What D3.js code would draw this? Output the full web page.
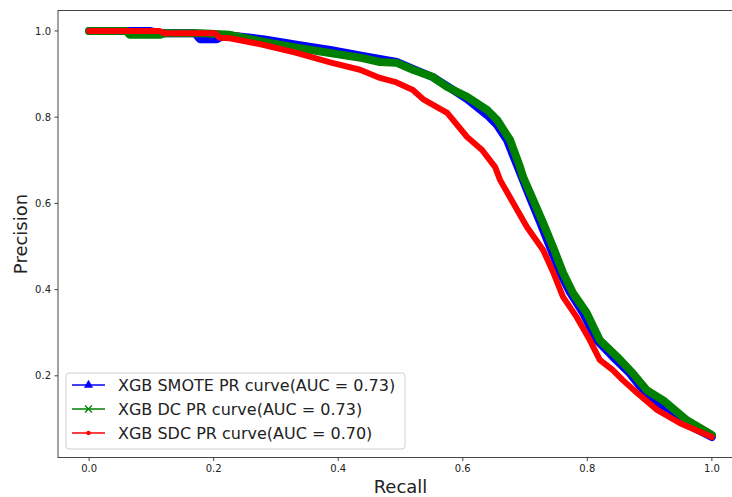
<!DOCTYPE html>
<html>
<head>
<meta charset="utf-8">
<script src="https://cdn.jsdelivr.net/npm/d3@7"></script>
<style>
  body { margin: 0; background: #fff; }
  text { font-family: "DejaVu Sans", sans-serif; }
</style>
</head>
<body>
<script>
// PR curve points (recall, precision)
const smoteRecall = [0.0, 0.097, 0.113, 0.170, 0.178, 0.205, 0.218, 0.279, 0.333, 0.387, 0.439, 0.494, 0.520, 0.552, 0.575, 0.607, 0.639, 0.655, 0.671, 0.687, 0.708, 0.724, 0.740, 0.756, 0.772, 0.793, 0.815, 0.841, 0.868, 0.892, 0.916, 0.956, 1.0];
const smotePrecision = [1.0, 1.0, 0.995, 0.995, 0.981, 0.981, 0.991, 0.981, 0.968, 0.956, 0.942, 0.928, 0.912, 0.893, 0.872, 0.842, 0.805, 0.782, 0.747, 0.689, 0.613, 0.557, 0.499, 0.441, 0.394, 0.346, 0.283, 0.244, 0.206, 0.162, 0.134, 0.090, 0.058];

const dcRecall = [0.0, 0.060, 0.065, 0.113, 0.121, 0.178, 0.226, 0.279, 0.333, 0.387, 0.439, 0.467, 0.494, 0.520, 0.552, 0.575, 0.607, 0.639, 0.655, 0.676, 0.692, 0.697, 0.713, 0.729, 0.745, 0.761, 0.777, 0.799, 0.820, 0.848, 0.873, 0.896, 0.922, 0.960, 1.0];
const dcPrecision = [1.0, 1.0, 0.991, 0.991, 0.995, 0.995, 0.991, 0.975, 0.961, 0.949, 0.937, 0.928, 0.926, 0.910, 0.893, 0.870, 0.847, 0.817, 0.794, 0.747, 0.684, 0.661, 0.608, 0.555, 0.499, 0.439, 0.392, 0.346, 0.283, 0.244, 0.206, 0.166, 0.143, 0.097, 0.063];

const sdcRecall = [0.0, 0.113, 0.121, 0.202, 0.210, 0.226, 0.279, 0.333, 0.387, 0.435, 0.467, 0.491, 0.520, 0.536, 0.575, 0.607, 0.631, 0.652, 0.660, 0.681, 0.703, 0.729, 0.745, 0.761, 0.783, 0.804, 0.820, 0.841, 0.857, 0.880, 0.912, 0.949, 1.0];
const sdcPrecision = [1.0, 1.0, 0.995, 0.995, 0.984, 0.983, 0.968, 0.949, 0.927, 0.910, 0.891, 0.882, 0.863, 0.842, 0.810, 0.754, 0.724, 0.684, 0.654, 0.601, 0.545, 0.492, 0.441, 0.383, 0.336, 0.283, 0.237, 0.213, 0.190, 0.160, 0.121, 0.090, 0.058];

const seriesNames = ["XGB SMOTE PR curve(AUC = 0.73)", "XGB DC PR curve(AUC = 0.73)", "XGB SDC PR curve(AUC = 0.70)"];
const xTicks = [0.0, 0.2, 0.4, 0.6, 0.8, 1.0];
const yTicks = [0.2, 0.4, 0.6, 0.8, 1.0];

const width = 732, height = 497;
const plotLeft = 58, plotRight = 743, plotTop = 10.5, plotBottom = 457.5;

const series = [
  { name: seriesNames[0], color: "blue", width: 8, marker: "triangle",
    points: smoteRecall.map((r, i) => [r, smotePrecision[i]]) },
  { name: seriesNames[1], color: "green", width: 8, marker: "cross",
    points: dcRecall.map((r, i) => [r, dcPrecision[i]]) },
  { name: seriesNames[2], color: "red", width: 6, marker: "dot",
    points: sdcRecall.map((r, i) => [r, sdcPrecision[i]]) }
];

const x = d3.scaleLinear().domain([-0.05, 1.05]).range([plotLeft, plotRight]);
const y = d3.scaleLinear().domain([0.0105, 1.0475]).range([plotBottom, plotTop]);

const svg = d3.select("body").append("svg")
    .attr("width", width)
    .attr("height", height);

// curves
const line = d3.line().x(d => x(d[0])).y(d => y(d[1]));

svg.selectAll(".curve")
    .data(series)
    .enter()
    .append("path")
    .attr("class", "curve")
    .attr("d", d => line(d.points))
    .attr("fill", "none")
    .attr("stroke", d => d.color)
    .attr("stroke-width", d => d.width)
    .attr("stroke-linejoin", "round")
    .attr("stroke-linecap", "round");

// spines
const axisColor = "#444";
svg.append("rect")
    .attr("x", plotLeft)
    .attr("y", plotTop)
    .attr("width", plotRight - plotLeft)
    .attr("height", plotBottom - plotTop)
    .attr("fill", "none")
    .attr("stroke", axisColor)
    .attr("stroke-width", 1);

// x ticks
const xt = svg.selectAll(".xtick").data(xTicks).enter().append("g")
    .attr("transform", d => `translate(${x(d)},${plotBottom})`);
xt.append("line").attr("y2", 3.5).attr("stroke", axisColor);
xt.append("text")
    .attr("y", 14.5)
    .attr("text-anchor", "middle")
    .attr("font-size", 10)
    .attr("fill", "#222")
    .text(d => d.toFixed(1));

// y ticks
const yt = svg.selectAll(".ytick").data(yTicks).enter().append("g")
    .attr("transform", d => `translate(${plotLeft},${y(d)})`);
yt.append("line").attr("x2", -3.5).attr("stroke", axisColor);
yt.append("text")
    .attr("x", -7)
    .attr("dy", "0.36em")
    .attr("text-anchor", "end")
    .attr("font-size", 10)
    .attr("fill", "#222")
    .text(d => d.toFixed(1));

// axis labels
svg.append("text")
    .attr("x", (plotLeft + plotRight) / 2)
    .attr("y", 493)
    .attr("text-anchor", "middle")
    .attr("font-size", 18)
    .attr("fill", "#222")
    .text("Recall");

svg.append("text")
    .attr("transform", `translate(27,${(plotTop + plotBottom) / 2}) rotate(-90)`)
    .attr("text-anchor", "middle")
    .attr("font-size", 18)
    .attr("fill", "#222")
    .text("Precision");

// legend
const legend = svg.append("g").attr("transform", "translate(66,373)");
legend.append("rect")
    .attr("width", 339)
    .attr("height", 76)
    .attr("rx", 3)
    .attr("fill", "white")
    .attr("fill-opacity", 0.8)
    .attr("stroke", "#d0d0d0");

const items = legend.selectAll(".legend-item")
    .data(series)
    .enter()
    .append("g")
    .attr("transform", (d, i) => `translate(6,${12 + i * 24})`);

items.append("line")
    .attr("x1", 0).attr("x2", 33)
    .attr("stroke", d => d.color)
    .attr("stroke-width", 1.5);

items.each(function(d) {
  const g = d3.select(this);
  if (d.marker === "triangle") {
    g.append("path")
        .attr("d", d3.symbol(d3.symbolTriangle, 36)())
        .attr("transform", "translate(16.5,0)")
        .attr("fill", d.color);
  } else if (d.marker === "cross") {
    g.append("path")
        .attr("d", "M-3.5,-3.5L3.5,3.5M-3.5,3.5L3.5,-3.5")
        .attr("transform", "translate(16.5,0)")
        .attr("stroke", d.color)
        .attr("stroke-width", 1.3);
  } else {
    g.append("circle")
        .attr("cx", 16.5)
        .attr("r", 2.2)
        .attr("fill", d.color);
  }
});

items.append("text")
    .attr("x", 46)
    .attr("dy", "0.36em")
    .attr("font-size", 16)
    .attr("fill", "#222")
    .text(d => d.name);
</script>
</body>
</html>
